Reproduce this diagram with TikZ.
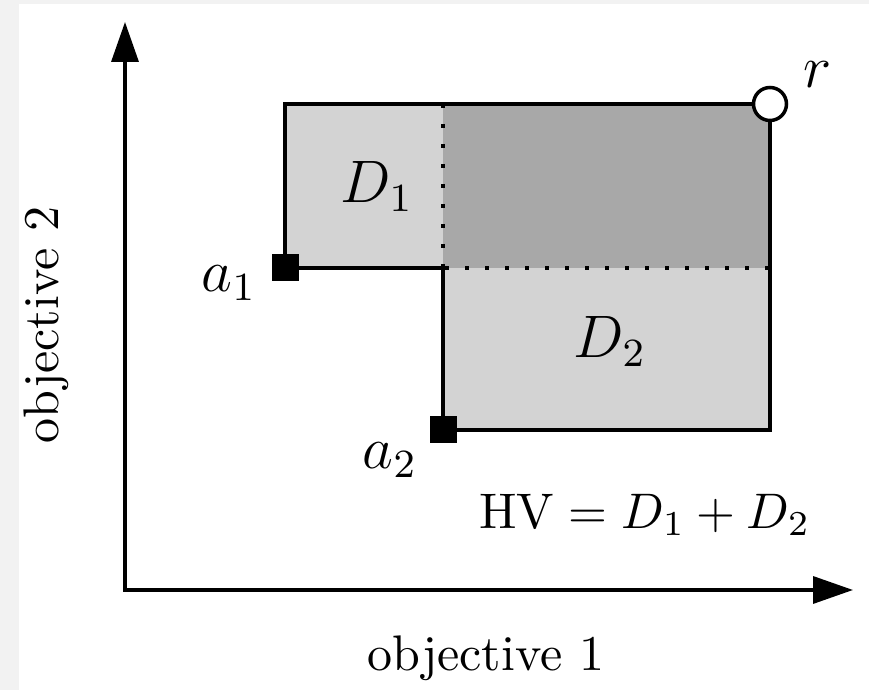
\documentclass[tikz,border=0pt]{standalone}
\usetikzlibrary{arrows.meta, positioning}
\definecolor{pagegray}{RGB}{242,242,242}
\definecolor{lightarea}{RGB}{211,211,211}
\definecolor{darkarea}{RGB}{168,168,168}
\tikzset{
  sol/.style={draw, fill=black, minimum size=5pt, inner sep=0pt},
  refpt/.style={draw, circle, fill=white, minimum size=6.6pt, inner sep=0pt, line width=0.7pt},
  axis/.style={{Triangle[length=8pt, width=5.4pt]}-{Triangle[length=8pt, width=5.4pt]}, line width=0.7pt},
  front/.style={line width=0.7pt},
  dots/.style={line width=0.8pt, dash pattern=on 0.8pt off 3.2pt},
  lbl/.style={font=\fontsize{11.5}{13}\selectfont},
}
\begin{document}
\begin{tikzpicture}[x=0.2pt, y=-0.2pt]
    \useasboundingbox (0,0) rectangle (869,690);
    \fill[pagegray] (0,0) rectangle (869,690);
    \fill[white] (19,4) rectangle (869,690);
    % dominated areas
    \fill[lightarea] (285,104) rectangle (443,268);
    \fill[darkarea] (443,104) rectangle (770,268);
    \fill[lightarea] (443,268) rectangle (770,430);
    \coordinate (vtop) at (443,104);
    \coordinate (mid) at (443,268);
    \coordinate (hleft) at (365,268);
    \coordinate (hright) at (770,268);
    \draw[dots] (vtop) -- (mid);
    \draw[dots] (hleft) -- (hright);
    % axes
    \coordinate (o) at (125,590);
    \coordinate (xend) at (853,590);
    \coordinate (yend) at (125,22);
    \draw[axis] (yend) -- (o) -- (xend);
    % points
    \node[sol] (a1) at (285,268) {};
    \node[sol] (a2) at (443,430) {};
    \node[refpt] (r) at (770,104) {};
    \draw[front] (a1) |- (r);
    \draw[front] (r) |- (a2);
    \draw[front] (a2) |- (a1);
    % labels
    \node[lbl] (rlbl) at (818,75) {$r$};
    \node[lbl] (a1lbl) at (229,283) {$a_1$};
    \node[lbl] (a2lbl) at (390,460) {$a_2$};
    \node[lbl] (d1) at (377,187) {$D_1$};
    \node[lbl] (d2) at (610,342) {$D_2$};
    \node (hv) at (645,515) {$\mathrm{HV} = D_1 + D_2$};
    \node (xlbl) at (486,658) {objective 1};
    \node[rotate=90] (ylbl) at (46,325) {objective 2};
\end{tikzpicture}
\end{document}
